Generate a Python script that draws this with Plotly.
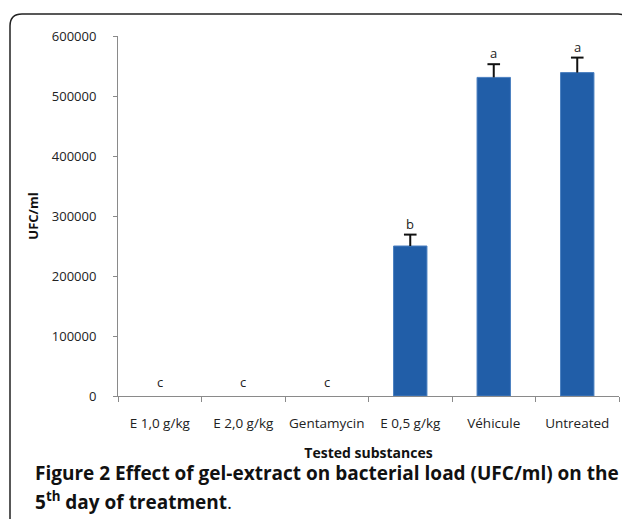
import plotly.graph_objects as go

categories = ["E 1,0 g/kg", "E 2,0 g/kg", "Gentamycin", "E 0,5 g/kg", "Véhicule", "Untreated"]
values = [0, 0, 0, 250000, 531000, 539000]
errors = [0, 0, 0, 19000, 22000, 25000]
letters = ["c", "c", "c", "b", "a", "a"]
y_ticks = [0, 100000, 200000, 300000, 400000, 500000, 600000]

# page has an 8px body margin; layout coords = screen coords - 8
W, H = 614, 511
L, R, T, B = 110, 3, 28, 123
pw, ph = W - L - R, H - T - B

def px(x):
    return (x - L) / pw

def py(y):
    return (H - B - y) / ph

FONT = "Open Sans"

fig = go.Figure()
fig.add_trace(go.Bar(
    x=categories, y=values, width=0.4,
    marker=dict(color="#215ea8",
                line=dict(color="#4a7fc0", width=[0 if v == 0 else 1 for v in values])),
    error_y=dict(type="data", array=errors, symmetric=False, arrayminus=[0] * len(values),
                 color="#111111", thickness=2, width=0, visible=True),
))

# error-bar caps (top only)
cap_x = [c for c, e in zip(categories, errors) if e > 0]
cap_y = [v + e for v, e in zip(values, errors) if e > 0]
fig.add_trace(go.Scatter(x=cap_x, y=cap_y, mode="markers", hoverinfo="skip",
                         marker=dict(symbol="line-ew", size=9, line=dict(color="#111111", width=2))))

for c, v, e, l in zip(categories, values, errors, letters):
    fig.add_annotation(x=c, y=v + e, text=l, showarrow=False, yanchor="middle",
                       yshift=(14 if v == 0 else 11),
                       font=dict(family=FONT, size=13, color="#222222"))

# rounded frame
x0, x1 = px(2), px(622)
y0, y1 = py(6), py(530)
rx, ry = 12 / pw, 12 / ph
path = (f"M {x0},{y1} L {x0},{y0 - ry} Q {x0},{y0} {x0 + rx},{y0} "
        f"L {x1 - rx},{y0} Q {x1},{y0} {x1},{y0 - ry} L {x1},{y1}")
fig.add_shape(type="path", path=path, xref="paper", yref="paper",
              line=dict(color="#222222", width=1.5))

fig.add_annotation(xref="paper", yref="paper", x=px(25), y=py(465), xanchor="left", yanchor="middle",
                   showarrow=False, align="left",
                   text="<b>Figure 2 Effect of gel-extract on bacterial load (UFC/ml) on the</b>",
                   font=dict(family=FONT, size=19, color="#111111"))
fig.add_annotation(xref="paper", yref="paper", x=px(25), y=py(493), xanchor="left", yanchor="middle",
                   showarrow=False, align="left",
                   text="<b>5<sup>th</sup> day of treatment</b>.",
                   font=dict(family=FONT, size=19, color="#111111"))

fig.update_layout(
    width=W, height=H, margin=dict(l=L, r=R, t=T, b=B),
    paper_bgcolor="white", plot_bgcolor="white", showlegend=False,
    font=dict(family=FONT, size=13, color="#222222"),
    xaxis=dict(type="category", showline=True, linecolor="#8a8a8a", linewidth=1,
               ticks="outside", tickson="boundaries", ticklen=5, tickcolor="#8a8a8a",
               ticklabelstandoff=15, tickangle=0,
               showgrid=False, tickfont=dict(family=FONT, size=13.5, color="#222222"),
               title=dict(text="<b>Tested substances</b>", standoff=16,
                          font=dict(family=FONT, size=14, color="#111111"))),
    yaxis=dict(range=[0, 600000], tickvals=y_ticks, ticktext=[str(t) for t in y_ticks],
               showline=True, linecolor="#8a8a8a", linewidth=1,
               ticks="outside", ticklen=4, tickcolor="#8a8a8a", showgrid=False, zeroline=False,
               ticklabelstandoff=14,
               tickfont=dict(family=FONT, size=13, color="#222222"),
               title=dict(text="<b>UFC/ml</b>", standoff=10,
                          font=dict(family=FONT, size=13, color="#111111"))),
)

fig.write_html("out.html")
